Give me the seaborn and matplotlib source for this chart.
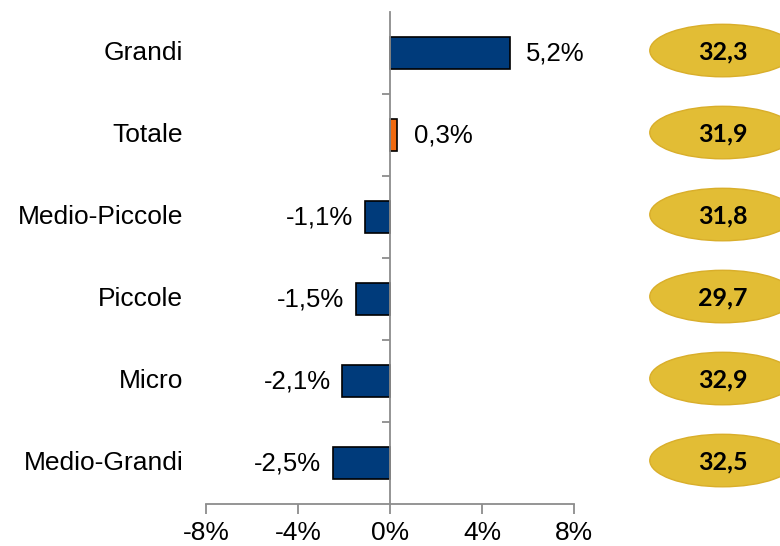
import matplotlib
matplotlib.use("Agg")
import matplotlib.pyplot as plt
import pandas as pd
import seaborn as sns
from matplotlib.patches import Ellipse
from matplotlib.ticker import FuncFormatter, FixedLocator

CATEGORIES = ["Grandi", "Totale", "Medio-Piccole", "Piccole", "Micro", "Medio-Grandi"]
CHANGE_PCT = [5.2, 0.3, -1.1, -1.5, -2.1, -2.5]
BADGE_VALUES = [32.3, 31.9, 31.8, 29.7, 32.9, 32.5]
BAR_COLORS = ["#003B7B", "#F06A10", "#003B7B", "#003B7B", "#003B7B", "#003B7B"]


def it_num(v, decimals=1):
    return f"{v:.{decimals}f}".replace(".", ",")


def main():
    sns.set_theme(style="white")
    plt.rcParams["font.family"] = ["Liberation Sans", "DejaVu Sans"]
    plt.rcParams["text.color"] = "black"
    plt.rcParams["xtick.labelcolor"] = "black"

    df = pd.DataFrame({"cat": CATEGORIES, "pct": CHANGE_PCT})

    fig = plt.figure(figsize=(7.8, 5.46), dpi=100)
    W, H = 780, 546
    left, right, top, bottom = 206, 574, 12, 504
    ax = fig.add_axes([left / W, (H - bottom) / H, (right - left) / W, (bottom - top) / H])

    sns.barplot(data=df, x="pct", y="cat", hue="cat", palette=BAR_COLORS, saturation=1,
                legend=False, width=0.4, edgecolor="black", linewidth=1.2, ax=ax)

    ax.set_xlim(-8, 8)
    ax.set_ylim(5.5, -0.5)
    ax.set_xticks([-8, -4, 0, 4, 8])
    ax.xaxis.set_major_formatter(FuncFormatter(lambda v, _: f"{int(v)}%"))
    ax.set_xlabel("")
    ax.set_ylabel("")

    for side in ["top", "right"]:
        ax.spines[side].set_visible(False)
    ax.spines["left"].set_position(("data", 0))
    for side in ["left", "bottom"]:
        ax.spines[side].set_color("#8C8C8C")
        ax.spines[side].set_linewidth(1.3)

    ax.tick_params(axis="x", direction="out", length=7, width=1.3, color="#8C8C8C",
                   labelsize=19, labelcolor="black", pad=5, bottom=True)
    ax.set_yticks([])
    ax.yaxis.set_minor_locator(FixedLocator([0.5, 1.5, 2.5, 3.5, 4.5]))
    ax.tick_params(axis="y", which="minor", direction="out", length=6, width=1.3,
                   color="#8C8C8C", left=True)

    # category labels on the far left
    for i, name in enumerate(CATEGORIES):
        ax.text(-0.062, i, name, transform=ax.get_yaxis_transform(),
                ha="right", va="center", fontsize=19, color="black")

    # value labels
    for i, v in enumerate(CHANGE_PCT):
        off = 12 if v >= 0 else -8
        ax.annotate(f"{it_num(v)}%", xy=(v, i), xytext=(off, 0), textcoords="offset points",
                    ha="left" if v >= 0 else "right", va="center", fontsize=18.5,
                    color="black")

    # gold badges on the right
    ax2 = fig.add_axes([640 / W, (H - bottom) / H, 140 / W, (bottom - top) / H])
    ax2.set_xlim(0, 1)
    ax2.set_ylim(5.5, -0.5)
    ax2.axis("off")
    for i, val in enumerate(BADGE_VALUES):
        yc = i - 0.03
        ax2.add_patch(Ellipse((0.59, yc), 1.04, 0.64, facecolor="#E2BD35",
                              edgecolor="#D9AE2A", linewidth=1.0, clip_on=False))
        ax2.text(0.59, yc + 0.02, it_num(val), ha="center", va="center", fontsize=18,
                 fontweight="bold", family=["Lato", "DejaVu Sans"], color="black")

    fig.savefig("out.png", dpi=100)
    plt.close(fig)


if __name__ == "__main__":
    main()
